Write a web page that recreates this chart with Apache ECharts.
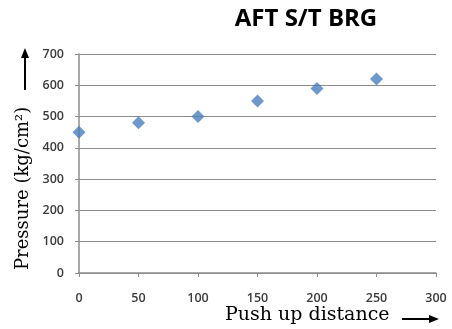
<!DOCTYPE html>
<html><head><meta charset="utf-8">
<script src="https://cdn.jsdelivr.net/npm/echarts@6/dist/echarts.min.js"></script>
<style>html,body{margin:0;padding:0;background:#fff}#c{width:452px;height:329px}</style>
</head><body><div id="c"></div>
<script>
const pushUp = [0, 50, 100, 150, 200, 250];
const pressure = [450, 480, 500, 550, 590, 620];
const titleText = 'AFT S/T BRG';
const xName = 'Push up distance';
const yName = 'Pressure (kg/cm²)';

const chart = echarts.init(document.getElementById('c'));
chart.setOption({
  animation: false,
  title: {text: titleText, left: 301, top: 2, textAlign: 'center',
    textStyle: {fontFamily: 'Open Sans', fontWeight: 'bold', fontSize: 24, color: '#000'}},
  grid: {left: 79, right: 16, top: 54, bottom: 56},
  xAxis: {type: 'value', min: 0, max: 300, interval: 50,
    axisLine: {lineStyle: {color: '#8c8c8c', width: 1.5}},
    axisTick: {show: true, length: 4, lineStyle: {color: '#8c8c8c'}},
    splitLine: {show: false},
    axisLabel: {margin: 19, fontFamily: 'Open Sans', fontWeight: 600, fontSize: 12.5, color: '#3a3a3a'}},
  yAxis: {type: 'value', min: 0, max: 700, interval: 100,
    axisLine: {show: true, lineStyle: {color: '#8c8c8c', width: 1.5}},
    axisTick: {show: true, length: 4, lineStyle: {color: '#8c8c8c'}},
    splitLine: {lineStyle: {color: '#8c8c8c', width: 1}},
    axisLabel: {margin: 15, fontFamily: 'Open Sans', fontWeight: 600, fontSize: 12.5, color: '#3a3a3a'}},
  series: [{type: 'scatter', symbol: 'diamond', symbolSize: 13,
    itemStyle: {color: '#4a7ebb'},
    data: pushUp.map((x, i) => [x, pressure[i]])}],
  graphic: [
    {type: 'text', x: 14, y: 270, rotation: Math.PI / 2,
      style: {text: yName, font: '18px "DejaVu Serif"', fill: '#000', verticalAlign: 'top'}},
    {type: 'line', shape: {x1: 25, y1: 90, x2: 25, y2: 56}, style: {stroke: '#000', lineWidth: 2}},
    {type: 'polygon', shape: {points: [[21, 58], [29, 58], [25, 48]]}, style: {fill: '#000'}},
    {type: 'text', x: 225, y: 306,
      style: {text: xName, font: '19px "DejaVu Serif"', fill: '#000'}},
    {type: 'line', shape: {x1: 402, y1: 319, x2: 431, y2: 319}, style: {stroke: '#000', lineWidth: 2}},
    {type: 'polygon', shape: {points: [[429, 315], [429, 323], [439, 319]]}, style: {fill: '#000'}}
  ]
});
</script></body></html>
